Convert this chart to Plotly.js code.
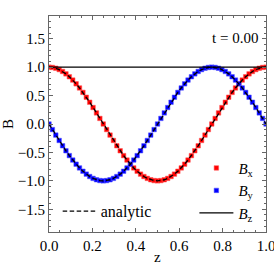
<!DOCTYPE html>
<html>
<head>
<meta charset="utf-8">
<script src="https://cdn.plot.ly/plotly-3.0.1.min.js"></script>
<style>html,body{margin:0;padding:0;background:#fff;}#chart{width:274px;height:274px;}</style>
</head>
<body>
<div id="chart"></div>
<script>
const z = [0, .0156, .0313, .0469, .0625, .0781, .0938, .1094, .125, .1406, .1563, .1719, .1875, .2031, .2188, .2344, .25,
  .2656, .2813, .2969, .3125, .3281, .3438, .3594, .375, .3906, .4063, .4219, .4375, .4531, .4688, .4844, .5,
  .5156, .5313, .5469, .5625, .5781, .5938, .6094, .625, .6406, .6563, .6719, .6875, .7031, .7188, .7344, .75,
  .7656, .7813, .7969, .8125, .8281, .8438, .8594, .875, .8906, .9063, .9219, .9375, .9531, .9688, .9844, 1.0];
const Bx = [1.000,0.995,0.981,0.957,0.924,0.882,0.831,0.773,0.707,0.634,0.556,0.471,0.383,0.290,0.195,0.098,0.000,
  -0.098,-0.195,-0.290,-0.383,-0.471,-0.556,-0.634,-0.707,-0.773,-0.831,-0.882,-0.924,-0.957,-0.981,-0.995,-1.000,
  -0.995,-0.981,-0.957,-0.924,-0.882,-0.831,-0.773,-0.707,-0.634,-0.556,-0.471,-0.383,-0.290,-0.195,-0.098,0.000,
  0.098,0.195,0.290,0.383,0.471,0.556,0.634,0.707,0.773,0.831,0.882,0.924,0.957,0.981,0.995,1.000];
const By = [0.000,-0.098,-0.195,-0.290,-0.383,-0.471,-0.556,-0.634,-0.707,-0.773,-0.831,-0.882,-0.924,-0.957,-0.981,-0.995,-1.000,
  -0.995,-0.981,-0.957,-0.924,-0.882,-0.831,-0.773,-0.707,-0.634,-0.556,-0.471,-0.383,-0.290,-0.195,-0.098,0.000,
  0.098,0.195,0.290,0.383,0.471,0.556,0.634,0.707,0.773,0.831,0.882,0.924,0.957,0.981,0.995,1.000,
  0.995,0.981,0.957,0.924,0.882,0.831,0.773,0.707,0.634,0.556,0.471,0.383,0.290,0.195,0.098,0.000];
const bzZ = [0, 1];
const Bz = [1.0, 1.0];
const xTicks = [0, 0.2, 0.4, 0.6, 0.8, 1.0];
const xTickText = ['0.0', '0.2', '0.4', '0.6', '0.8', '1.0'];
const yTicks = [-1.5, -1.0, -0.5, 0.0, 0.5, 1.0, 1.5];
const yTickText = ['\u22121.5', '\u22121.0', '\u22120.5', '0.0', '0.5', '1.0', '1.5'];
const timeLabel = 't = 0.00';
const xTitle = 'z';

const FONT = 'Liberation Serif';
const axisCol = '#666';

const traces = [
  {x: z, y: Bx, mode: 'markers', name: '<i>B</i><sub>x</sub>', legend: 'legend',
   marker: {symbol: 'square', size: 4.5, color: '#ff0000', line: {width: 1, color: 'rgba(255,90,90,0.55)'}}},
  {x: z, y: By, mode: 'markers', name: '<i>B</i><sub>y</sub>', legend: 'legend',
   marker: {symbol: 'square', size: 4.5, color: '#0000ff', line: {width: 1, color: 'rgba(90,90,255,0.55)'}}},
  {x: z, y: Bx, mode: 'lines', name: 'analytic', legend: 'legend2',
   line: {color: '#000', width: 1.3, dash: '4.5px,2.5px'}},
  {x: z, y: By, mode: 'lines', name: 'analytic', showlegend: false,
   line: {color: '#000', width: 1.3, dash: '4.5px,2.5px'}},
  {x: bzZ, y: Bz, mode: 'lines', name: '<i>B</i><sub>z</sub>', legend: 'legend',
   line: {color: '#000', width: 1.3}}
];

const layout = {
  width: 274, height: 274,
  margin: {l: 49, r: 8, t: 16, b: 42},
  paper_bgcolor: '#fff', plot_bgcolor: '#fff',
  font: {family: FONT, size: 15, color: '#000'},
  showlegend: true,
  xaxis: {
    range: [0, 1], tickmode: 'array', tickvals: xTicks, ticktext: xTickText,
    ticks: 'inside', ticklen: 4, tickcolor: axisCol, tickwidth: 1,
    showline: true, linecolor: axisCol, linewidth: 1, mirror: 'ticks',
    showgrid: false, zeroline: false, ticklabeloverflow: 'allow',
    minor: {dtick: 0.05, tick0: 0, ticks: 'inside', ticklen: 2, tickcolor: axisCol, showgrid: false},
    tickfont: {family: FONT, size: 15, color: '#000'}
  },
  yaxis: {
    range: [-1.9, 1.9], tickmode: 'array', tickvals: yTicks, ticktext: yTickText,
    ticks: 'inside', ticklen: 4, tickcolor: axisCol, tickwidth: 1,
    showline: true, linecolor: axisCol, linewidth: 1, mirror: 'ticks',
    showgrid: false, zeroline: false,
    minor: {dtick: 0.1, tick0: 0, ticks: 'inside', ticklen: 2, tickcolor: axisCol, showgrid: false},
    tickfont: {family: FONT, size: 15, color: '#000'},
    title: {text: 'B', font: {family: FONT, size: 15}, standoff: 2}
  },
  legend: {
    x: 0.67, y: 0.372, xanchor: 'left', yanchor: 'top',
    bgcolor: 'rgba(0,0,0,0)', borderwidth: 0,
    font: {family: FONT, size: 15, color: '#000'},
    tracegroupgap: 0, itemwidth: 34
  },
  legend2: {
    x: 0.04, y: 0.175, xanchor: 'left', yanchor: 'top',
    bgcolor: 'rgba(0,0,0,0)', borderwidth: 0,
    font: {family: FONT, size: 16, color: '#000'}, itemwidth: 33
  },
  annotations: [
    {text: timeLabel, xref: 'paper', yref: 'paper', x: 0.742, y: 0.9, xanchor: 'left', yanchor: 'middle',
     showarrow: false, font: {family: FONT, size: 15, color: '#000'}},
    {text: xTitle, xref: 'paper', yref: 'paper', x: 0.5, y: -0.118, xanchor: 'center', yanchor: 'middle',
     showarrow: false, font: {family: FONT, size: 15, color: '#000'}}
  ]
};

Plotly.newPlot('chart', traces, layout, {displayModeBar: false, staticPlot: true});
</script>
</body>
</html>
